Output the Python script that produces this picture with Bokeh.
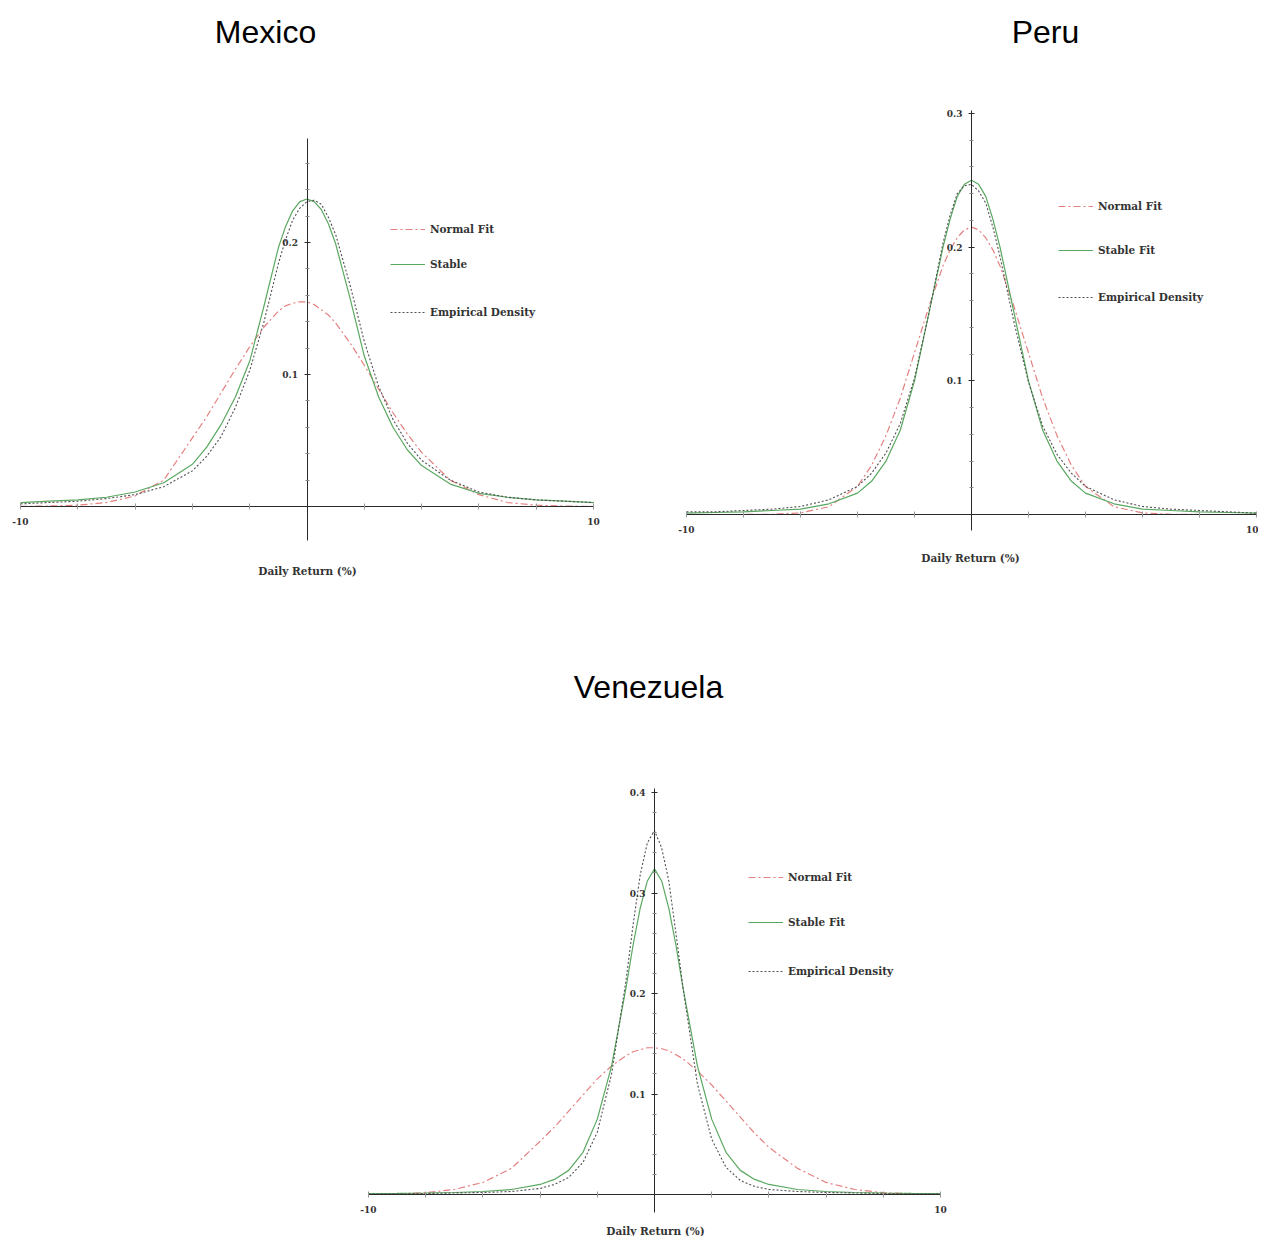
from bokeh.plotting import figure
from bokeh.layouts import row, column
from bokeh.models import Label, Legend, LegendItem, FixedTicker
from bokeh.embed import file_html
from bokeh.resources import INLINE

# ---------------- data ----------------
X = [-10, -9, -8, -7, -6, -5, -4, -3.5, -3, -2.5, -2, -1.5, -1, -0.75, -0.5, -0.25, 0,
     0.25, 0.5, 0.75, 1, 1.5, 2, 2.5, 3, 3.5, 4, 5, 6, 7, 8, 9, 10]

mexico_normal = [0.0001, 0.0004, 0.001, 0.003, 0.008, 0.020, 0.052, 0.068, 0.086, 0.104, 0.121, 0.136, 0.148, 0.152, 0.154, 0.155, 0.155,
                 0.153, 0.149, 0.145, 0.139, 0.124, 0.107, 0.089, 0.071, 0.055, 0.041, 0.020, 0.009, 0.003, 0.001, 0.0003, 0.0001]
mexico_stable = [0.003, 0.004, 0.005, 0.007, 0.011, 0.018, 0.032, 0.045, 0.062, 0.083, 0.110, 0.152, 0.196, 0.212, 0.224, 0.231, 0.233,
                 0.231, 0.225, 0.214, 0.199, 0.158, 0.114, 0.083, 0.060, 0.043, 0.031, 0.017, 0.010, 0.007, 0.005, 0.004, 0.003]
mexico_empirical = [0.002, 0.003, 0.004, 0.006, 0.009, 0.015, 0.027, 0.038, 0.053, 0.075, 0.103, 0.140, 0.184, 0.202, 0.217, 0.226, 0.231,
                    0.232, 0.229, 0.219, 0.206, 0.168, 0.125, 0.091, 0.066, 0.048, 0.035, 0.020, 0.011, 0.007, 0.005, 0.004, 0.003]

peru_normal = [0.0, 0.0, 0.0, 0.0002, 0.0012, 0.0058, 0.021, 0.037, 0.059, 0.087, 0.121, 0.155, 0.186, 0.198, 0.207, 0.213, 0.215,
               0.213, 0.207, 0.198, 0.186, 0.155, 0.121, 0.087, 0.059, 0.037, 0.021, 0.0058, 0.0012, 0.0002, 0.0, 0.0, 0.0]
peru_stable = [0.001, 0.0015, 0.002, 0.003, 0.004, 0.008, 0.016, 0.025, 0.040, 0.063, 0.100, 0.150, 0.200, 0.221, 0.238, 0.247, 0.250,
               0.247, 0.238, 0.221, 0.200, 0.150, 0.100, 0.063, 0.040, 0.025, 0.016, 0.008, 0.004, 0.003, 0.002, 0.0015, 0.001]
peru_empirical = [0.002, 0.002, 0.003, 0.004, 0.006, 0.011, 0.021, 0.031, 0.046, 0.068, 0.102, 0.150, 0.203, 0.224, 0.240, 0.246, 0.247,
                  0.242, 0.233, 0.215, 0.193, 0.143, 0.099, 0.066, 0.045, 0.031, 0.021, 0.011, 0.006, 0.004, 0.003, 0.002, 0.001]

venezuela_normal = [0.0002, 0.0006, 0.0018, 0.005, 0.012, 0.026, 0.053, 0.067, 0.083, 0.099, 0.115, 0.128, 0.138, 0.142, 0.144, 0.146, 0.146,
                    0.145, 0.143, 0.139, 0.135, 0.123, 0.109, 0.093, 0.077, 0.061, 0.047, 0.026, 0.012, 0.005, 0.0018, 0.0006, 0.0002]
venezuela_stable = [0.001, 0.0012, 0.0015, 0.002, 0.003, 0.005, 0.010, 0.015, 0.024, 0.042, 0.075, 0.128, 0.205, 0.248, 0.285, 0.312, 0.324,
                    0.312, 0.285, 0.248, 0.205, 0.128, 0.075, 0.042, 0.024, 0.015, 0.010, 0.005, 0.003, 0.002, 0.0015, 0.0012, 0.001]
venezuela_empirical = [0.0005, 0.0007, 0.001, 0.0015, 0.002, 0.003, 0.006, 0.010, 0.017, 0.032, 0.062, 0.120, 0.212, 0.268, 0.318, 0.350, 0.362,
                       0.345, 0.312, 0.260, 0.205, 0.110, 0.055, 0.027, 0.014, 0.008, 0.005, 0.003, 0.002, 0.0015, 0.001, 0.0007, 0.0005]

x_ticks = [-10, -8, -6, -4, -2, 0, 2, 4, 6, 8, 10]
x_tick_labels = {-10: "-10", 10: "10"}

TITLE_FONT = "Liberation Sans"
SMALL_FONT = "DejaVu Serif"
AXIS_COLOR = "#2a2a2a"
C_NORMAL = "#e58080"
C_STABLE = "#5aa860"
C_EMP = "#505050"


def make_panel(name, labels, normal, stable, empirical, y_ticks, y_minor, y_bounds,
               fig_left, fig_top, fig_w, fig_h, x_px, y_px,
               title_xy, xlabel_xy, legend_x, legend_ys):
    # x_px: (page px of x=-10, page px of x=10); y_px: (page px of y=0, px per unit)
    xm10, xp10 = x_px
    sx = (xp10 - xm10) / 20.0
    x0 = -10 - (xm10 - fig_left) / sx
    x1 = 10 + (fig_left + fig_w - xp10) / sx
    yzero, sy = y_px
    y1 = (yzero - fig_top) / sy
    y0 = -(fig_top + fig_h - yzero) / sy

    p = figure(width=fig_w, height=fig_h, x_range=(x0, x1), y_range=(y0, y1),
               min_border=0, min_border_left=0, min_border_right=0, min_border_top=0, min_border_bottom=0,
               output_backend="svg", toolbar_location=None, background_fill_color="white",
               border_fill_color="white")
    p.outline_line_color = None
    p.grid.visible = False

    p.xaxis.fixed_location = 0
    p.yaxis.fixed_location = 0
    p.xaxis.bounds = (-10, 10)
    p.yaxis.bounds = y_bounds
    p.xaxis.ticker = FixedTicker(ticks=x_ticks)
    p.xaxis.major_label_overrides = {t: x_tick_labels.get(t, "") for t in x_ticks}
    p.yaxis.ticker = FixedTicker(ticks=y_ticks, minor_ticks=y_minor)
    for ax in (p.xaxis, p.yaxis):
        ax.axis_line_color = AXIS_COLOR
        ax.axis_line_width = 1
        ax.major_tick_line_color = AXIS_COLOR
        ax.minor_tick_line_color = "#888888"
        ax.major_tick_in = 3
        ax.major_tick_out = 3
        ax.minor_tick_in = 2
        ax.minor_tick_out = 2
        ax.major_label_text_font = SMALL_FONT
        ax.major_label_text_font_style = "bold"
        ax.major_label_text_font_size = "9px"
        ax.major_label_text_color = "#333333"
        ax.major_label_standoff = 6
    p.xaxis.major_label_standoff = 8
    p.xaxis.minor_tick_line_color = None
    p.xaxis.major_tick_line_color = "#999999"

    r_n = p.line(X, normal, line_color=C_NORMAL, line_width=1.2, line_dash="7 3 2 3")
    r_s = p.line(X, stable, line_color=C_STABLE, line_width=1.2)
    r_e = p.line(X, empirical, line_color=C_EMP, line_width=1.1, line_dash="2 2")

    fb = fig_top + fig_h
    for lab, rend, cy in zip(labels, (r_n, r_s, r_e), legend_ys):
        lg = Legend(items=[LegendItem(label=lab, renderers=[rend])],
                    location=(legend_x - fig_left, fb - cy - 6),
                    padding=0, margin=0, spacing=0,
                    border_line_alpha=0, background_fill_alpha=0,
                    glyph_width=35, glyph_height=12, label_height=12,
                    label_standoff=5,
                    label_text_font=SMALL_FONT, label_text_font_style="bold",
                    label_text_font_size="10.5px", label_text_color="#333333",
                    label_text_baseline="middle")
        p.add_layout(lg)

    tx, ty = title_xy
    p.add_layout(Label(x=tx - fig_left, y=fb - ty, x_units="screen", y_units="screen", text=name,
                       text_align="center", text_baseline="middle", text_font=TITLE_FONT,
                       text_font_size="32px", text_color="#000000"))
    lx, ly = xlabel_xy
    p.add_layout(Label(x=lx - fig_left, y=fb - ly, x_units="screen", y_units="screen",
                       text="Daily Return (%)", text_align="center", text_baseline="middle",
                       text_font=SMALL_FONT, text_font_style="bold", text_font_size="10.5px",
                       text_color="#333333"))
    return p


mex = make_panel("Mexico", ["Normal Fit", "Stable", "Empirical Density"],
                 mexico_normal, mexico_stable, mexico_empirical,
                 [0.1, 0.2], [0.02, 0.04, 0.06, 0.08, 0.12, 0.14, 0.16, 0.18, 0.22, 0.24, 0.26],
                 (-0.0258, 0.2788),
                 0, 0, 640, 600, (20, 593), (506, 1320.0),
                 (265, 31), (307, 570), 390, [229, 264, 312])

peru = make_panel("Peru", ["Normal Fit", "Stable Fit", "Empirical Density"],
                  peru_normal, peru_stable, peru_empirical,
                  [0.1, 0.2, 0.3], [0.02, 0.04, 0.06, 0.08, 0.12, 0.14, 0.16, 0.18, 0.22, 0.24, 0.26, 0.28],
                  (-0.012, 0.3022),
                  640, 0, 618, 600, (686, 1256), (514, 1336.7),
                  (1045, 31), (970, 557), 1058, [206, 250, 297])

ven = make_panel("Venezuela", ["Normal Fit", "Stable Fit", "Empirical Density"],
                 venezuela_normal, venezuela_stable, venezuela_empirical,
                 [0.1, 0.2, 0.3, 0.4], [0.02, 0.04, 0.06, 0.08, 0.12, 0.14, 0.16, 0.18, 0.22, 0.24,
                                        0.26, 0.28, 0.32, 0.34, 0.36, 0.38],
                 (-0.0179, 0.404),
                 0, 600, 1250, 636, (368, 940), (1194, 1005.0),
                 (648, 686), (655, 1230), 748, [877, 922, 971])

layout = column(row(mex, peru, spacing=0), ven, spacing=0)

with open("out.html", "w") as f:
    f.write(file_html(layout, INLINE))
